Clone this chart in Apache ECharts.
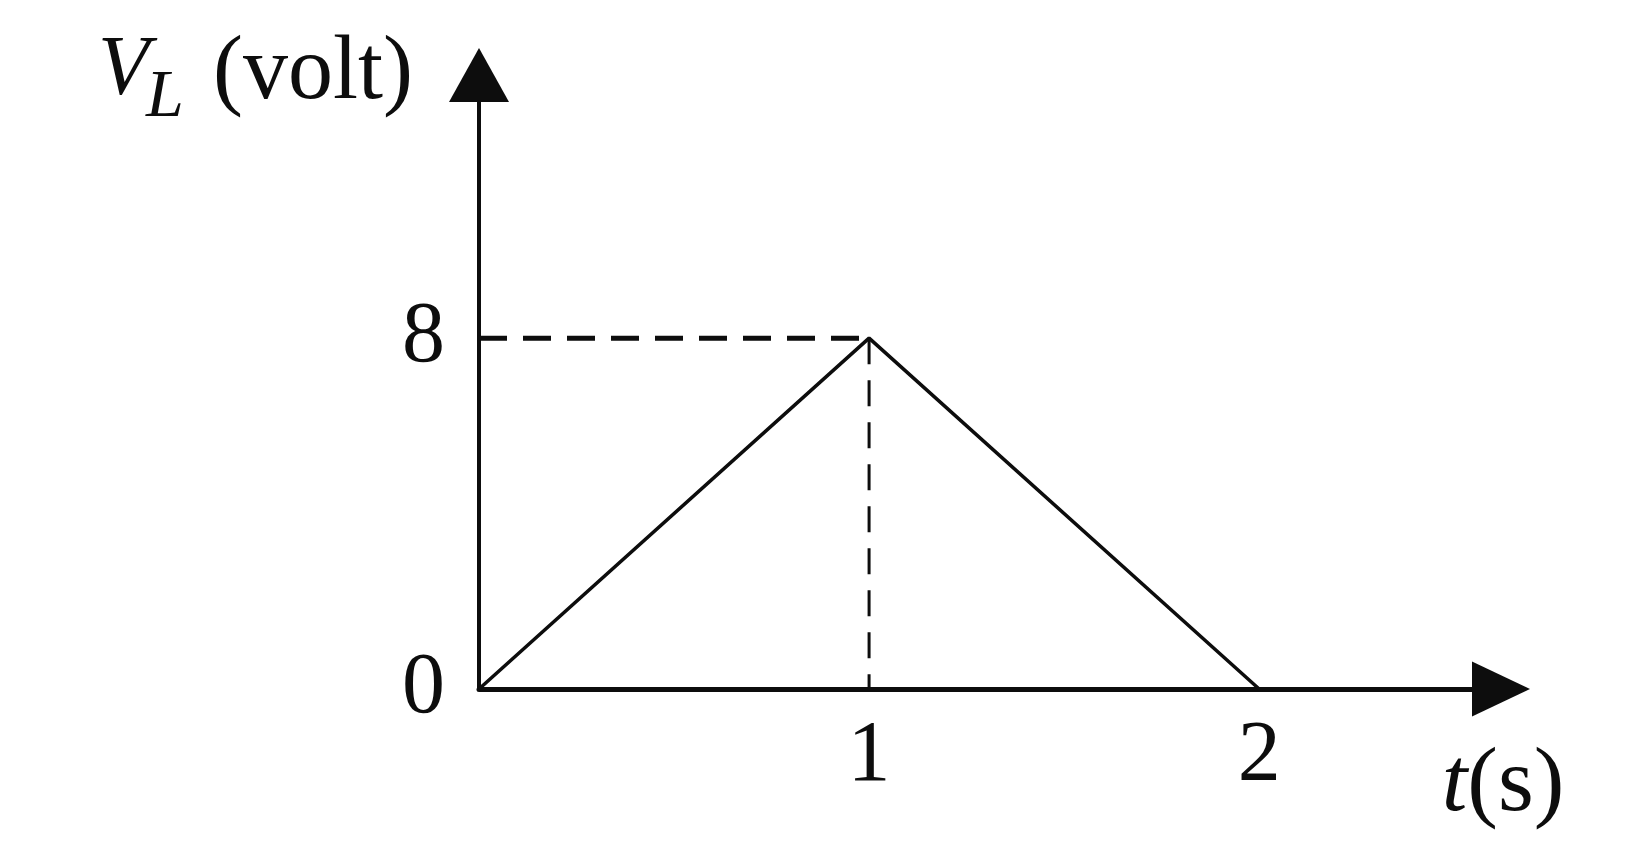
<!DOCTYPE html>
<html>
<head>
<meta charset="utf-8">
<title>V_L vs t</title>
<script src="https://cdn.jsdelivr.net/npm/echarts@6/dist/echarts.min.js"></script>
<style>
  html, body { margin: 0; padding: 0; background: #fff; }
  #chart { width: 1649px; height: 865px; }
</style>
</head>
<body>
<div id="chart"></div>
<script>
// triangle pulse of the inductor voltage
var tValues = [0, 1, 2];
var vValues = [0, 8, 0];
// peak used for the dashed guide lines
var peakT = 1;
var peakV = 8;
// labelled ticks
var xTicks = [1, 2];
var yTicks = [0, 8];

var serif = '"Liberation Serif", "Times New Roman", serif';
var ink = '#0d0d0d';

var chart = echarts.init(document.getElementById('chart'));

var pulse = [];
for (var i = 0; i < tValues.length; i++) {
  pulse.push([tValues[i], vValues[i]]);
}

var option = {
  backgroundColor: '#fff',
  animation: false,
  grid: { left: 479, right: 148, top: 75, bottom: 176 },
  xAxis: {
    type: 'value',
    min: 0,
    max: 2.62,
    interval: 1,
    splitLine: { show: false },
    axisTick: { show: false },
    axisLine: {
      onZero: false,
      symbol: ['none', 'triangle'],
      symbolSize: [55, 58],
      lineStyle: { color: ink, width: 5 }
    },
    axisLabel: {
      margin: 25,
      color: ink,
      fontFamily: serif,
      fontSize: 86,
      formatter: function (v) {
        return xTicks.indexOf(v) >= 0 ? String(v) : '';
      }
    }
  },
  yAxis: {
    type: 'value',
    min: 0,
    max: 14,
    interval: 8,
    splitLine: { show: false },
    axisTick: { show: false },
    axisLine: {
      show: true,
      symbol: ['none', 'triangle'],
      symbolSize: [60, 54],
      lineStyle: { color: ink, width: 4 }
    },
    axisLabel: {
      margin: 34,
      color: ink,
      fontFamily: serif,
      fontSize: 86,
      formatter: function (v) {
        return yTicks.indexOf(v) >= 0 ? String(v) : '';
      }
    }
  },
  graphic: [
    {
      type: 'text', x: 98, y: 72,
      style: { text: 'V', font: 'italic 84px ' + serif, fill: ink, textVerticalAlign: 'middle' }
    },
    {
      type: 'text', x: 146, y: 98,
      style: { text: 'L', font: 'italic 68px ' + serif, fill: ink, textVerticalAlign: 'middle' }
    },
    {
      type: 'text', x: 213, y: 74,
      style: { text: '(volt)', font: '90px ' + serif, fill: ink, textVerticalAlign: 'middle' }
    },
    {
      type: 'text', x: 1503, y: 786,
      style: {
        text: '{i|t}(s)',
        font: '92px ' + serif,
        fill: ink,
        textAlign: 'center',
        textVerticalAlign: 'middle',
        rich: { i: { fontStyle: 'italic', fontSize: 92, fontFamily: serif, fill: ink } }
      }
    }
  ],
  series: [
    {
      name: 'V_L',
      type: 'line',
      data: pulse,
      symbol: 'none',
      lineStyle: { color: ink, width: 3.5 },
      z: 3
    },
    {
      name: 'guide-h',
      type: 'line',
      data: [[0, peakV], [peakT, peakV]],
      symbol: 'none',
      lineStyle: { color: ink, width: 5, type: [28, 16] },
      z: 2
    },
    {
      name: 'guide-v',
      type: 'line',
      data: [[peakT, peakV], [peakT, 0]],
      symbol: 'none',
      lineStyle: { color: ink, width: 3, type: [26, 16] },
      z: 2
    }
  ]
};

chart.setOption(option);
window.addEventListener('resize', function () {
  chart.resize();
});
</script>
</body>
</html>
